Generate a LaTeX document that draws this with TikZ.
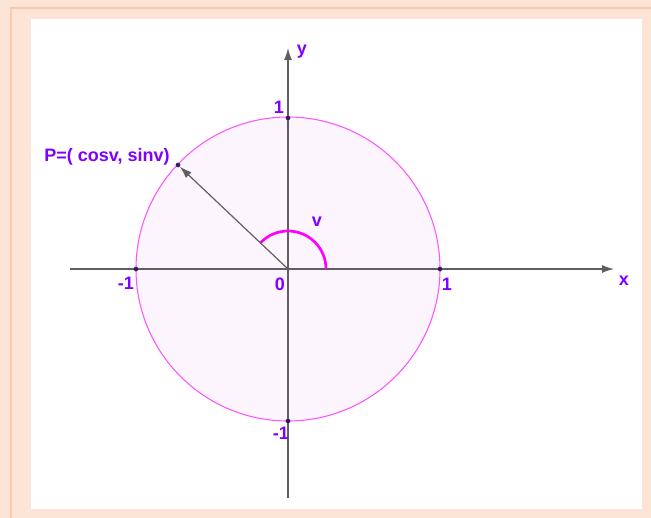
\documentclass[tikz,border=0pt]{standalone}
\usepackage{fontspec}
\setmainfont{Liberation Sans}
\usetikzlibrary{arrows.meta}
\definecolor{peach}{HTML}{FCE4D6}
\definecolor{peachline}{HTML}{F8CBAD}
\definecolor{lbl}{HTML}{7F00FF}
\definecolor{axisgray}{HTML}{5F5F5F}
\definecolor{circfill}{HTML}{FDF5FD}
\definecolor{circline}{HTML}{FF55FF}
\definecolor{arcmag}{HTML}{FF00FF}
\definecolor{dotc}{HTML}{3A1870}
\begin{document}
\begin{tikzpicture}[x=0.75pt,y=-0.75pt,
  lab/.style={text=lbl,font=\fontsize{13.5pt}{15pt}\selectfont\bfseries,inner sep=0pt},
  axis/.style={draw=axisgray,line width=1pt,-{Latex[length=9pt,width=6pt]}},
  pt/.style={circle,fill=dotc,inner sep=0pt,minimum size=3.5pt}]
\useasboundingbox (0,0) rectangle (651,518);
\fill[peach] (0,0) rectangle (651,518);
\draw[peachline,line width=1.5pt] (10.5,660) -- (10.5,7.5) -- (700,7.5);
\fill[peach] (12,9) rectangle (651,518);
\fill[white] (31,19) rectangle (642,509);
% circle
\coordinate (O) at (288,269);
\fill[circfill] (O) circle (152);
\draw[circline,line width=0.8pt] (O) circle (152);
% axes
\coordinate (xl) at (70,269);
\coordinate (xr) at (614,269);
\coordinate (yb) at (288,498);
\coordinate (yt) at (288,48);
\draw[axis] (xl) -- (xr);
\draw[axis] (yb) -- (yt);
% angle arc
\draw[arcmag,line width=2pt] (326,269) arc (0:-136.6:38);
% points
\node[pt] (P) at (178,165) {};
\node[pt] (p1) at (288,118) {};
\node[pt] (pm1) at (288,421) {};
\node[pt] (q1) at (440,269) {};
\node[pt] (qm1) at (136,269) {};
\draw[axisgray,line width=0.9pt,-{Latex[length=9pt,width=6pt]}] (O) -- (P);
% labels
\node[lab] (Pl) at (107,157) {P=( cosv, sinv)};
\node[lab] (ly) at (302,52) {y};
\node[lab] (lx) at (624,281) {x};
\node[lab] (l1) at (279,107) {1};
\node[lab] (lm1y) at (281,433) {-1};
\node[lab] (lm1x) at (126,283) {-1};
\node[lab] (l0) at (280,284) {0};
\node[lab] (l1x) at (447,284) {1};
\node[lab] (lv) at (317,222) {v};
\end{tikzpicture}
\end{document}
